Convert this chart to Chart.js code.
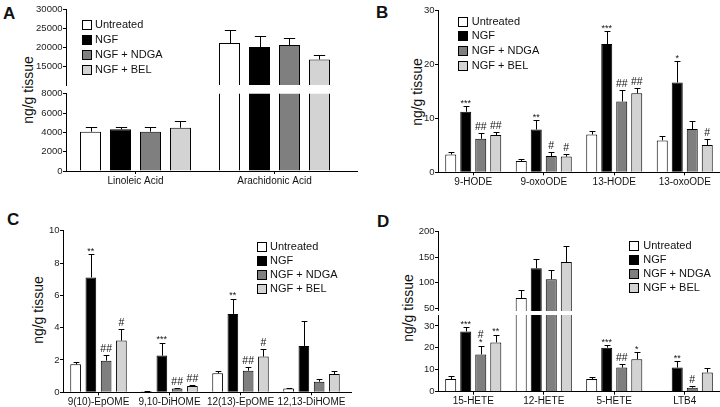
<!DOCTYPE html>
<html lang="en">
<head>
<meta charset="UTF-8">
<title>NGF lipid mediators - ng/g tissue</title>
<script src="https://cdn.jsdelivr.net/npm/chart.js"></script>
<style>
    body { margin: 0; width: 720px; height: 407px; overflow: hidden; background: #fff; position: relative;
           font-family: "Liberation Sans", Arial, Helvetica, sans-serif; color: #111; }
    canvas { position: absolute; }
    .letter { position: absolute; font-weight: bold; font-size: 17px; line-height: 17px; }
    .ytitle { position: absolute; font-size: 14px; line-height: 14px; white-space: nowrap;
              transform: translate(-50%, -50%) rotate(-90deg); }
</style>
</head>
<body>
<div class="letter" style="left:3px;top:5px">A</div>
<div class="letter" style="left:376px;top:4px">B</div>
<div class="letter" style="left:7px;top:211px">C</div>
<div class="letter" style="left:377px;top:213px">D</div>

<div class="ytitle" style="left:28px;top:90px">ng/g tissue</div>
<div class="ytitle" style="left:417px;top:92px">ng/g tissue</div>
<div class="ytitle" style="left:38px;top:310px">ng/g tissue</div>
<div class="ytitle" style="left:408px;top:308px">ng/g tissue</div>

<canvas id="aTop" width="360" height="200" style="left:0;top:0"></canvas>
<canvas id="aBottom" width="360" height="200" style="left:0;top:0"></canvas>
<canvas id="bChart" width="360" height="200" style="left:360px;top:0"></canvas>
<canvas id="cChart" width="360" height="215" style="left:0;top:200px"></canvas>
<canvas id="dTop" width="360" height="215" style="left:360px;top:200px"></canvas>
<canvas id="dBottom" width="360" height="215" style="left:360px;top:200px"></canvas>

<script>
    const groups = ['Untreated', 'NGF', 'NGF + NDGA', 'NGF + BEL'];
    const groupColors = ['#ffffff', '#000000', '#7f7f7f', '#d3d3d3'];

    // A - fatty acids
    const aCategories = ['Linoleic Acid', 'Arachidonic Acid'];
    const aUntreated = [4070, 21040];
    const aNGF = [4310, 20000];
    const aNDGA = [4070, 20520];
    const aBEL = [4480, 16700];
    const aUntreatedSem = [520, 3310];
    const aNGFSem = [270, 2870];
    const aNDGASem = [500, 1830];
    const aBELSem = [720, 1300];
    const aTopTicks = [15000, 20000, 25000, 30000];
    const aBottomTicks = [0, 2000, 4000, 6000, 8000];

    // B - linoleic acid metabolites
    const bCategories = ['9-HODE', '9-oxoODE', '13-HODE', '13-oxoODE'];
    const bUntreated = [3.3, 2.1, 7.0, 5.9];
    const bNGF = [11.2, 7.9, 23.7, 16.6];
    const bNDGA = [6.2, 3.0, 13.1, 8.0];
    const bBEL = [6.9, 2.9, 14.6, 5.05];
    const bUntreatedSem = [0.4, 0.3, 0.7, 0.75];
    const bNGFSem = [1.0, 1.7, 2.4, 3.95];
    const bNDGASem = [1.0, 0.75, 2.15, 1.4];
    const bBELSem = [0.5, 0.5, 1.05, 1.05];
    const bNGFSig = ['***', '**', '***', '*'];
    const bNDGASig = ['##', '#', '##', ''];
    const bBELSig = ['##', '#', '##', '#'];
    const bTicks = [0, 10, 20, 30];

    // C - epoxides and diols
    const cCategories = ['9(10)-EpOME', '9,10-DiHOME', '12(13)-EpOME', '12,13-DiHOME'];
    const cUntreated = [1.73, 0.07, 1.18, 0.23];
    const cNGF = [7.11, 2.27, 4.85, 2.87];
    const cNDGA = [1.96, 0.23, 1.34, 0.66];
    const cBEL = [3.2, 0.39, 2.21, 1.13];
    const cUntreatedSem = [0.17, 0.03, 0.12, 0.06];
    const cNGFSem = [1.43, 0.8, 0.95, 1.56];
    const cNDGASem = [0.35, 0.06, 0.22, 0.16];
    const cBELSem = [0.7, 0.06, 0.47, 0.17];
    const cNGFSig = ['**', '***', '**', ''];
    const cNDGASig = ['##', '##', '##', ''];
    const cBELSig = ['#', '##', '#', ''];
    const cTicks = [0, 2, 4, 6, 8, 10];

    // D - arachidonic acid metabolites
    const dCategories = ['15-HETE', '12-HETE', '5-HETE', 'LTB4'];
    const dUntreated = [5.8, 70.3, 5.8, 0.15];
    const dNGF = [27.5, 128.3, 20.1, 11.0];
    const dNDGA = [17.0, 106.8, 11.0, 1.85];
    const dBEL = [22.5, 140.7, 14.8, 8.8];
    const dUntreatedSem = [1.35, 15.6, 0.75, 0.05];
    const dNGFSem = [2.0, 17.6, 1.1, 2.9];
    const dNDGASem = [4.0, 18.2, 1.8, 0.75];
    const dBELSem = [3.4, 31.3, 3.2, 2.0];
    const dNGFSig = ['***', '', '***', '**'];
    const dNDGASig = ['#\n*', '', '##', '#'];
    const dBELSig = ['**', '', '*', ''];
    const dTopTicks = [50, 100, 150, 200];
    const dBottomTicks = [0, 10, 20, 30];

    const FONT = '"Liberation Sans", Arial, Helvetica, sans-serif';
    Chart.defaults.font.family = FONT;
    Chart.defaults.color = '#222';

    // whisker (upper only) + significance marks
    const errorBars = {
        id: 'errorBars',
        afterDatasetsDraw(chart) {
            const { ctx, chartArea: a } = chart;
            const y = chart.scales.y;
            chart.data.datasets.forEach((ds, i) => {
                const meta = chart.getDatasetMeta(i);
                meta.data.forEach((bar, j) => {
                    const top = ds.data[j] + ds.err[j];
                    const yTop = y.getPixelForValue(top);
                    const x = Math.round(bar.x) + 0.5;
                    const half = bar.width * 0.27;
                    ctx.save();
                    ctx.beginPath();
                    ctx.rect(a.left, a.top - 1, a.right - a.left, a.bottom - a.top + 1);
                    ctx.clip();
                    ctx.strokeStyle = '#000';
                    ctx.lineWidth = 1;
                    ctx.beginPath();
                    ctx.moveTo(x, bar.y);
                    ctx.lineTo(x, Math.round(yTop) + 0.5);
                    ctx.moveTo(x - half, Math.round(yTop) + 0.5);
                    ctx.lineTo(x + half, Math.round(yTop) + 0.5);
                    ctx.stroke();
                    ctx.restore();

                    const s = ds.sig && ds.sig[j];
                    if (!s || top < y.min || top > y.max) return;
                    ctx.save();
                    ctx.fillStyle = '#111';
                    ctx.textAlign = 'center';
                    ctx.textBaseline = 'alphabetic';
                    const lines = s.split('\n');
                    let base = null;
                    for (let k = lines.length - 1; k >= 0; k--) {
                        const star = lines[k].indexOf('*') >= 0;
                        if (base === null) base = yTop - (star ? 0.5 : 3);
                        else base -= 7.5;
                        ctx.font = (star ? '9px ' : '10.5px ') + FONT;
                        ctx.fillText(lines[k], bar.x, base);
                    }
                    ctx.restore();
                });
            });
        }
    };

    const panelLegend = {
        id: 'panelLegend',
        afterDraw(chart, args, o) {
            if (!o || o.x === undefined) return;
            const ctx = chart.ctx;
            ctx.save();
            ctx.font = '11px ' + FONT;
            ctx.textBaseline = 'middle';
            chart.data.datasets.forEach((ds, i) => {
                const cy = o.y + i * o.dy;
                const bx = Math.round(o.x) + 0.5, by = Math.round(cy - 4.5) + 0.5;
                ctx.fillStyle = ds.backgroundColor;
                ctx.fillRect(bx, by, 9, 9);
                ctx.strokeStyle = '#000';
                ctx.lineWidth = 1;
                ctx.strokeRect(bx, by, 9, 9);
                ctx.fillStyle = '#111';
                ctx.fillText(ds.label, o.tx, cy + 0.5);
            });
            ctx.restore();
        }
    };

    const axisExt = {
        id: 'axisExt',
        afterDraw(chart, args, o) {
            if (!o || !o.px) return;
            const { ctx, chartArea: a } = chart;
            const yy = Math.round(a.bottom - 0.5) + 0.5;
            ctx.save();
            ctx.strokeStyle = '#000';
            ctx.lineWidth = 1;
            ctx.beginPath();
            ctx.moveTo(a.right - 1, yy);
            ctx.lineTo(a.right + o.px, yy);
            ctx.stroke();
            ctx.restore();
        }
    };

    function buildDatasets(means, sems, sigs) {
        return groups.map((g, i) => ({
            label: g,
            data: means[i],
            err: sems[i],
            sig: sigs[i] || [],
            backgroundColor: groupColors[i],
            borderColor: '#000',
            borderWidth: 1,
            clip: 0
        }));
    }

    function makeChart(id, p) {
        const a = p.area, xH = p.showX ? 24 : 0;
        return new Chart(document.getElementById(id), {
            type: 'bar',
            data: { labels: p.labels, datasets: p.datasets },
            options: {
                responsive: false,
                animation: false,
                layout: {
                    padding: { left: 0, top: a.t, right: p.W - a.r, bottom: p.H - a.b - xH }
                },
                datasets: { bar: { categoryPercentage: p.catPct, barPercentage: p.barPct } },
                plugins: {
                    legend: { display: false },
                    tooltip: { enabled: false },
                    panelLegend: p.legend || {},
                    axisExt: { px: p.ext || 0 }
                },
                scales: {
                    x: {
                        display: p.showX,
                        grid: { display: true, drawOnChartArea: false, drawTicks: true, tickLength: 3, color: '#000', offset: false },
                        border: { color: '#000', width: 1 },
                        ticks: { font: { size: 10 }, color: '#111', padding: 1, maxRotation: 0, autoSkip: false },
                        afterFit: s => { s.height = xH; }
                    },
                    y: {
                        min: p.yMin,
                        max: p.yMax,
                        afterBuildTicks: s => { s.ticks = p.yTicks.map(v => ({ value: v })); },
                        grid: { drawOnChartArea: false, drawTicks: true, tickLength: 3, color: '#000' },
                        border: { color: '#000', width: 1 },
                        ticks: { font: { size: 9.5 }, color: '#222', padding: 0.5, callback: v => String(v) },
                        afterFit: s => { s.width = a.l; }
                    }
                }
            },
            plugins: [errorBars, panelLegend, axisExt]
        });
    }

    const aSets = () => buildDatasets([aUntreated, aNGF, aNDGA, aBEL],
        [aUntreatedSem, aNGFSem, aNDGASem, aBELSem], []);
    makeChart('aTop', {
        labels: aCategories, datasets: aSets(), W: 360, H: 200,
        area: { l: 66, t: 9, r: 344, b: 85 }, yMin: 10000, yMax: 30000, yTicks: aTopTicks,
        showX: false, catPct: 0.863, barPct: 0.7,
        legend: { x: 82, y: 24.3, dy: 14.9, tx: 95 }
    });
    makeChart('aBottom', {
        labels: aCategories, datasets: aSets(), W: 360, H: 200,
        area: { l: 66, t: 93.7, r: 344, b: 171 }, yMin: 0, yMax: 8000, yTicks: aBottomTicks,
        showX: true, catPct: 0.863, barPct: 0.7, ext: 14
    });

    makeChart('bChart', {
        labels: bCategories,
        datasets: buildDatasets([bUntreated, bNGF, bNDGA, bBEL],
            [bUntreatedSem, bNGFSem, bNDGASem, bBELSem], [[], bNGFSig, bNDGASig, bBELSig]),
        W: 360, H: 200, area: { l: 78, t: 10, r: 360, b: 172.3 },
        yMin: 0, yMax: 30, yTicks: bTicks, showX: true, catPct: 0.851, barPct: 0.733,
        legend: { x: 98.3, y: 21.2, dy: 14.6, tx: 111.7 }
    });

    makeChart('cChart', {
        labels: cCategories,
        datasets: buildDatasets([cUntreated, cNGF, cNDGA, cBEL],
            [cUntreatedSem, cNGFSem, cNDGASem, cBELSem], [[], cNGFSig, cNDGASig, cBELSig]),
        W: 360, H: 215, area: { l: 63, t: 30.7, r: 347, b: 192.3 },
        yMin: 0, yMax: 10, yTicks: cTicks, showX: true, catPct: 0.86, barPct: 0.7, ext: 5,
        legend: { x: 256.7, y: 46, dy: 14.2, tx: 270 }
    });

    const dSets = () => buildDatasets([dUntreated, dNGF, dNDGA, dBEL],
        [dUntreatedSem, dNGFSem, dNDGASem, dBELSem], [[], dNGFSig, dNDGASig, dBELSig]);
    makeChart('dTop', {
        labels: dCategories, datasets: dSets(), W: 360, H: 215,
        area: { l: 78, t: 31.7, r: 360, b: 110.9 }, yMin: 45, yMax: 200, yTicks: dTopTicks,
        showX: false, catPct: 0.853, barPct: 0.733,
        legend: { x: 269.3, y: 45, dy: 14.1, tx: 283.3 }
    });
    makeChart('dBottom', {
        labels: dCategories, datasets: dSets(), W: 360, H: 215,
        area: { l: 78, t: 115, r: 360, b: 191.7 }, yMin: 0, yMax: 35, yTicks: dBottomTicks,
        showX: true, catPct: 0.853, barPct: 0.733
    });
</script>
</body>
</html>
